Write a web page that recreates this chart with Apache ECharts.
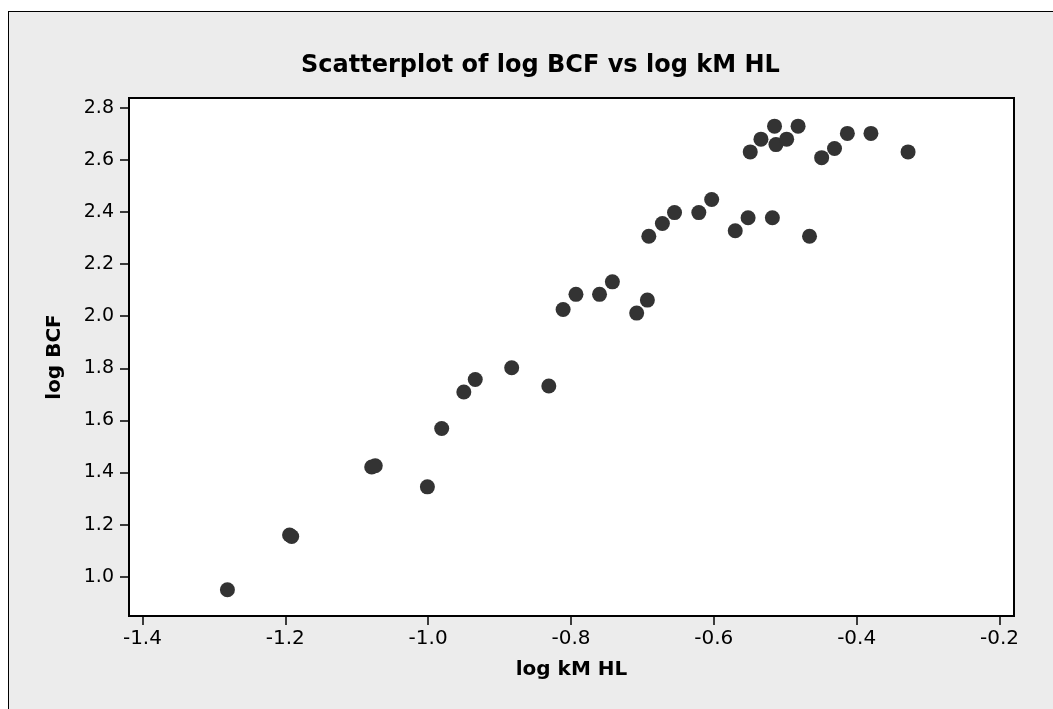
<!DOCTYPE html>
<html>
<head>
<meta charset="utf-8">
<script src="https://cdn.jsdelivr.net/npm/echarts@6/dist/echarts.min.js"></script>
<style>
  html, body { margin: 0; padding: 0; background: #fff; }
  #frame {
    position: absolute; left: 8px; top: 11px; width: 1100px; height: 800px;
    background: #ececec; border-left: 1.5px solid #000; border-top: 1.5px solid #000;
  }
  #chart { position: absolute; left: 0; top: 0; width: 1053px; height: 709px; }
</style>
</head>
<body>
<div id="frame"></div>
<div id="chart"></div>
<script>
// log kM HL (x) and log BCF (y)
const logKmHL = [
  -1.281, -1.194, -1.191, -1.079, -1.074, -1.001, -0.981, -0.950, -0.934, -0.883,
  -0.831, -0.811, -0.793, -0.760, -0.742, -0.708, -0.693, -0.691, -0.672, -0.655,
  -0.621, -0.603, -0.570, -0.552, -0.518, -0.466, -0.549, -0.534, -0.515, -0.513,
  -0.498, -0.482, -0.449, -0.431, -0.413, -0.380, -0.328
]
const logBCF = [
  0.950, 1.160, 1.154, 1.421, 1.426, 1.345, 1.569, 1.709, 1.757, 1.802,
  1.732, 2.026, 2.084, 2.084, 2.132, 2.012, 2.062, 2.307, 2.356, 2.398,
  2.398, 2.448, 2.328, 2.378, 2.378, 2.307, 2.631, 2.680, 2.730, 2.659,
  2.680, 2.730, 2.609, 2.644, 2.702, 2.702, 2.631
]
const xTicks = [-1.4, -1.2, -1.0, -0.8, -0.6, -0.4, -0.2]
const yTicks = [1.0, 1.2, 1.4, 1.6, 1.8, 2.0, 2.2, 2.4, 2.6, 2.8]

const chart = echarts.init(document.getElementById('chart'), null, { renderer: 'canvas' })

const font = 'DejaVu Sans'
const points = logKmHL.map((x, i) => [x, logBCF[i]])

chart.setOption({
  backgroundColor: 'transparent',
  animation: false,
  title: {
    text: 'Scatterplot of log BCF vs log kM HL',
    left: 296,
    top: 49,
    textStyle: { fontFamily: font, fontWeight: 'bold', fontSize: 24, color: '#000' },
  },
  grid: {
    left: 129, right: 39, top: 98, bottom: 93,
    show: true, backgroundColor: '#fff', borderColor: '#000', borderWidth: 2,
  },
  xAxis: {
    type: 'value',
    min: -1.4188, max: -0.1797,
    name: 'log kM HL',
    nameLocation: 'middle',
    nameGap: 44,
    nameTextStyle: { fontFamily: font, fontWeight: 'bold', fontSize: 20, color: '#000' },
    axisLine: { show: false },
    axisTick: { show: true, length: 9, customValues: xTicks, lineStyle: { color: '#000', width: 1.5 } },
    axisLabel: {
      customValues: xTicks, margin: 13, color: '#000', fontFamily: font, fontSize: 20,
      formatter: v => v.toFixed(1),
    },
    splitLine: { show: false },
  },
  yAxis: {
    type: 'value',
    min: 0.849, max: 2.838,
    name: 'log BCF',
    nameLocation: 'middle',
    nameGap: 64,
    nameTextStyle: { fontFamily: font, fontWeight: 'bold', fontSize: 20, color: '#000' },
    axisLine: { show: false },
    axisTick: { show: true, length: 9, customValues: yTicks, lineStyle: { color: '#000', width: 1.5 } },
    axisLabel: {
      customValues: yTicks, margin: 15, color: '#000', fontFamily: font, fontSize: 19,
      formatter: v => v.toFixed(1),
    },
    splitLine: { show: false },
  },
  series: [{
    type: 'scatter',
    data: points,
    symbol: 'circle',
    symbolSize: 15,
    itemStyle: { color: '#333333', opacity: 1 },
  }],
})
</script>
</body>
</html>
